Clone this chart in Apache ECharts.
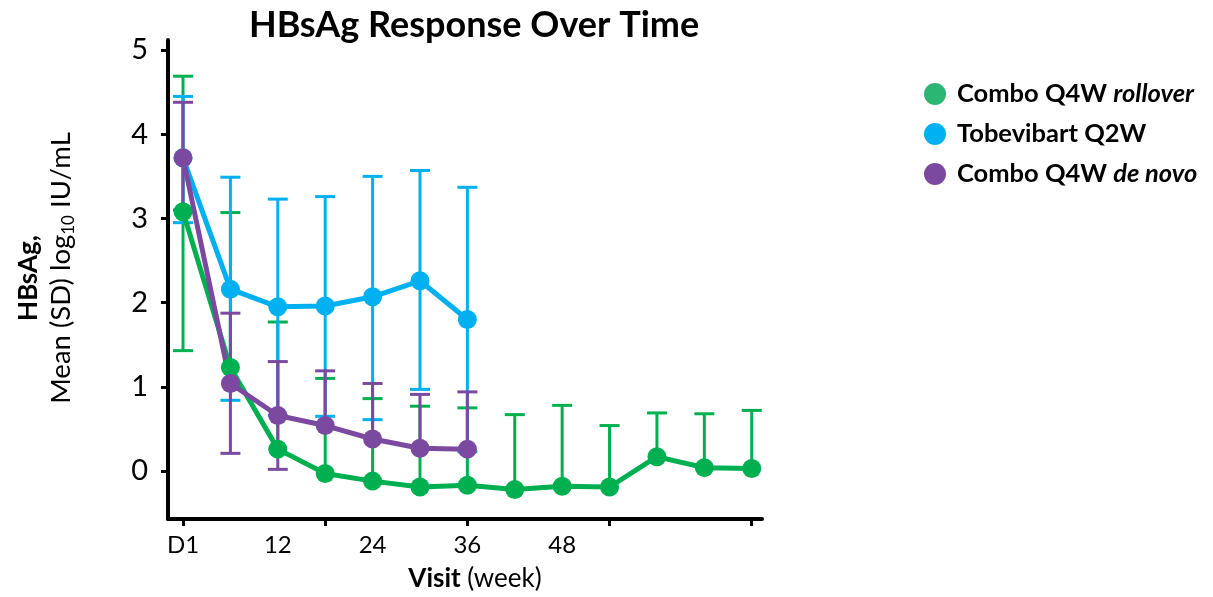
<!DOCTYPE html>
<html>
<head>
<meta charset="utf-8">
<script src="https://cdn.jsdelivr.net/npm/echarts@6/dist/echarts.min.js"></script>
<style>html,body{margin:0;padding:0;background:#fff}#c{width:1213px;height:597px}</style>
</head>
<body>
<div id="c"></div>
<script>
// ---- data ----
const weeks = [0, 6, 12, 18, 24, 30, 36, 42, 48, 54, 60, 66, 72];
const xTickWeeks = [0, 18, 36, 54, 72];
const xLabelWeeks = [0, 12, 24, 36, 48];
const yTicks = [0, 1, 2, 3, 4, 5];

const seriesNames = ['Combo Q4W rollover', 'Tobevibart Q2W', 'Combo Q4W de novo'];

const rolloverMean  = [3.08, 1.23, 0.26, -0.03, -0.12, -0.19, -0.17, -0.22, -0.18, -0.19, 0.17, 0.04, 0.03];
const rolloverUpper = [4.69, 3.07, 1.77, 1.10, 0.86, 0.77, 0.75, 0.67, 0.78, 0.54, 0.69, 0.68, 0.72];
const rolloverLower = [1.43, null, null, null, null, null, null, null, null, null, null, null, null];

const tobeMean  = [3.72, 2.16, 1.95, 1.96, 2.07, 2.26, 1.80];
const tobeUpper = [4.45, 3.49, 3.23, 3.26, 3.50, 3.57, 3.37];
const tobeLower = [2.95, 0.84, 0.66, 0.65, 0.61, 0.97, 0.23];

const denovoMean  = [3.72, 1.04, 0.66, 0.54, 0.38, 0.27, 0.26];
const denovoUpper = [4.38, 1.875, 1.30, 1.19, 1.04, 0.91, 0.94];
const denovoLower = [3.10, 0.21, 0.02, null, null, null, null];

const colors = ['#00B050', '#00B0F0', '#7B4AA0'];
const legendColors = ['#2BB673', '#00B0F0', '#7B4AA0'];
const FONT = 'Lato';

function pts(mean) { return mean.map((v, i) => [weeks[i], v]); }
function errData(mean, up, lo) { return mean.map((v, i) => [weeks[i], v, up[i], lo[i] == null ? NaN : lo[i]]); }

function errSeries(data, color) {
  return {
    type: 'custom',
    data: data,
    silent: true,
    renderItem: function (params, api) {
      const x = api.value(0), m = api.value(1), u = api.value(2), l = api.value(3);
      const pm = api.coord([x, m]);
      const pu = api.coord([x, u]);
      const hw = 10;
      const style = { stroke: color, lineWidth: 3, fill: null };
      const children = [
        { type: 'line', shape: { x1: pm[0], y1: pm[1], x2: pu[0], y2: pu[1] }, style: style },
        { type: 'line', shape: { x1: pu[0] - hw, y1: pu[1], x2: pu[0] + hw, y2: pu[1] }, style: style }
      ];
      if (!isNaN(l)) {
        const pl = api.coord([x, l]);
        children.push({ type: 'line', shape: { x1: pm[0], y1: pm[1], x2: pl[0], y2: pl[1] }, style: style });
        children.push({ type: 'line', shape: { x1: pl[0] - hw, y1: pl[1], x2: pl[0] + hw, y2: pl[1] }, style: style });
      }
      return { type: 'group', children: children };
    }
  };
}

function lineSeries(name, mean, color) {
  return {
    type: 'line', name: name, data: pts(mean),
    symbol: 'circle', symbolSize: 19,
    itemStyle: { color: color },
    lineStyle: { color: color, width: 5 },
    animation: false
  };
}

const legendText = { fontFamily: FONT, fontSize: 25.5, fontWeight: 'bold', color: '#000' };

const chart = echarts.init(document.getElementById('c'));
chart.setOption({
  animation: false,
  textStyle: { fontFamily: FONT },
  title: {
    text: 'HBsAg Response Over Time',
    left: 244, top: 2,
    textStyle: { fontFamily: FONT, fontWeight: 'bold', fontSize: 36, color: '#000' }
  },
  legend: {
    orient: 'vertical', left: 919, top: 76, itemGap: 14,
    icon: 'circle', itemWidth: 22, itemHeight: 22,
    data: seriesNames.map((n, i) => ({ name: n, itemStyle: { color: legendColors[i] } })),
    formatter: function (n) {
      if (n === seriesNames[0]) return '{g|}{b|Combo Q4W }{i|rollover}';
      if (n === seriesNames[2]) return '{g|}{b|Combo Q4W }{i|de novo}';
      return '{g|}{b|' + n + '}';
    },
    textStyle: {
      fontFamily: FONT, fontSize: 25.5, color: '#000',
      rich: {
        g: { width: 6 },
        b: legendText,
        i: Object.assign({}, legendText, { fontStyle: 'italic' })
      }
    }
  },
  grid: { left: 168, right: 451, top: 40, bottom: 75, containLabel: false },
  xAxis: {
    type: 'value', min: -1.9, max: 73.3,
    splitLine: { show: false },
    axisLine: { show: true, onZero: false, lineStyle: { color: '#000', width: 4 } },
    axisTick: { show: true, customValues: xTickWeeks, length: 7, lineStyle: { color: '#000', width: 3 } },
    axisLabel: {
      customValues: xLabelWeeks, margin: 14,
      fontFamily: FONT, fontSize: 24, color: '#000',
      formatter: v => (v === 0 ? 'D1' : String(v))
    },
    name: '{p|}{b|Visit}{n| (week)}',
    nameLocation: 'middle', nameGap: 47,
    nameTextStyle: {
      rich: {
        p: { width: 20 },
        b: { fontFamily: FONT, fontSize: 26, fontWeight: 'bold', color: '#000' },
        n: { fontFamily: FONT, fontSize: 26, color: '#000' }
      }
    }
  },
  yAxis: {
    type: 'value', min: -0.57, max: 5.12,
    splitLine: { show: false },
    axisLine: { show: true, onZero: false, lineStyle: { color: '#000', width: 4 } },
    axisTick: { show: true, customValues: yTicks, length: 7, lineStyle: { color: '#000', width: 3 } },
    axisLabel: { customValues: yTicks, margin: 20, fontFamily: FONT, fontSize: 29, color: '#000' }
  },
  graphic: [
    {
      type: 'text', x: 29, y: 278, rotation: Math.PI / 2,
      style: { text: 'HBsAg,', fontFamily: FONT, fontSize: 26, fontWeight: 'bold', fill: '#000', align: 'center', verticalAlign: 'middle' }
    },
    {
      type: 'text', x: 61, y: 268, rotation: Math.PI / 2,
      style: {
        text: '{n|Mean (SD) log}{s|10}{n| IU/mL}',
        align: 'center', verticalAlign: 'middle',
        rich: {
          n: { fontFamily: FONT, fontSize: 27.5, fill: '#000', lineHeight: 32 },
          s: { fontFamily: FONT, fontSize: 17, fill: '#000', lineHeight: 17, verticalAlign: 'bottom' }
        }
      }
    }
  ],
  series: [
    errSeries(errData(rolloverMean, rolloverUpper, rolloverLower), colors[0]),
    lineSeries(seriesNames[0], rolloverMean, colors[0]),
    errSeries(errData(tobeMean, tobeUpper, tobeLower), colors[1]),
    lineSeries(seriesNames[1], tobeMean, colors[1]),
    errSeries(errData(denovoMean, denovoUpper, denovoLower), colors[2]),
    lineSeries(seriesNames[2], denovoMean, colors[2])
  ]
});
</script>
</body>
</html>
